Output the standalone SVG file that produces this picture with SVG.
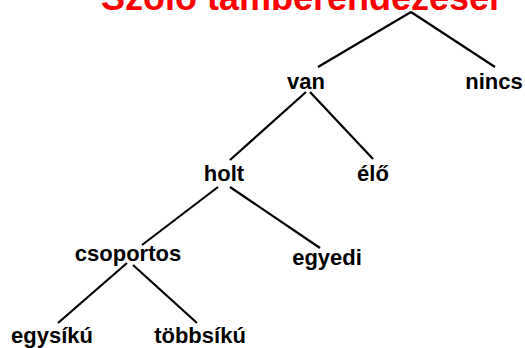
<svg xmlns="http://www.w3.org/2000/svg" width="525" height="348" viewBox="0 0 525 348">
<style>
.t{font-family:"Liberation Sans",Arial,sans-serif;font-weight:bold;font-size:22px;fill:#000;text-anchor:middle}
.title{font-family:"Liberation Sans",Arial,sans-serif;font-weight:bold;font-size:36px;fill:#ff0000;text-anchor:middle}
.c line{stroke:#000;stroke-width:2.2;stroke-linecap:butt}
</style>
<rect width="525" height="348" fill="#fff"/>
<text class="title" x="300" y="9.5">Szőlő támberendezései</text>
<g class="c" id="connectors">
<line x1="411" y1="12" x2="318" y2="67"/>
<line x1="411" y1="12" x2="495" y2="67"/>
<line x1="306" y1="92" x2="230" y2="160"/>
<line x1="310" y1="92" x2="373" y2="159"/>
<line x1="218" y1="187" x2="142" y2="245"/>
<line x1="230" y1="187" x2="320" y2="248"/>
<line x1="127" y1="263" x2="58" y2="323"/>
<line x1="133" y1="265" x2="197" y2="323"/>
</g>
<g id="van"><text class="t" x="306" y="89">van</text></g>
<g id="nincs"><text class="t" x="494" y="89">nincs</text></g>
<g id="holt"><text class="t" x="224" y="181">holt</text></g>
<g id="elo"><text class="t" x="373" y="181">élő</text></g>
<g id="csoportos"><text class="t" x="128" y="261">csoportos</text></g>
<g id="egyedi"><text class="t" x="327" y="265">egyedi</text></g>
<g id="egysiku"><text class="t" x="52" y="343">egysíkú</text></g>
<g id="tobbsiku"><text class="t" x="200" y="343">többsíkú</text></g>
</svg>
